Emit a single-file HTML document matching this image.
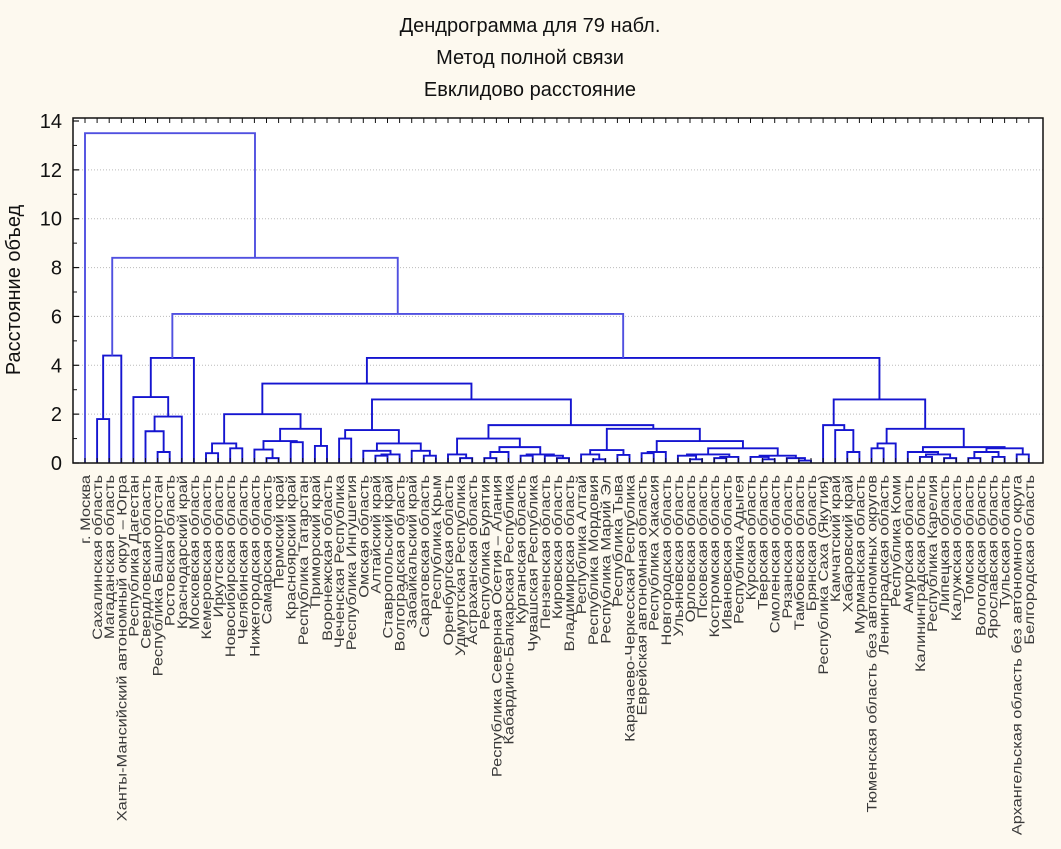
<!DOCTYPE html>
<html><head><meta charset="utf-8">
<style>
html,body{margin:0;padding:0;background:#fdf9ef;}
svg{display:block;font-family:"Liberation Sans",sans-serif;}
</style></head>
<body>
<svg id="chart" width="1061" height="849" viewBox="0 0 1061 849">
<rect x="0" y="0" width="1061" height="849" fill="#fdf9ef"/>
<text x="530" y="32" text-anchor="middle" font-size="20" fill="#111">Дендрограмма для 79 набл.</text>
<text x="530" y="64" text-anchor="middle" font-size="20" fill="#111">Метод полной связи</text>
<text x="530" y="96" text-anchor="middle" font-size="20" fill="#111">Евклидово расстояние</text>
<text transform="translate(20,290) rotate(-90)" text-anchor="middle" font-size="20" fill="#111">Расстояние объед</text>
<rect x="73" y="118" width="970" height="345" fill="#ffffff"/>
<g id="grid"></g>
<g id="links"></g>
<rect x="73" y="118" width="970" height="345" fill="none" stroke="#111" stroke-width="1.5"/>
<g id="axis"></g>
<g id="labels"></g>
</svg>
<script>
const leafLabels = ["г. Москва","Сахалинская область","Магаданская область","Ханты-Мансийский автономный округ – Югра","Республика Дагестан","Свердловская область","Республика Башкортостан","Ростовская область","Краснодарский край","Московская область","Кемеровская область","Иркутская область","Новосибирская область","Челябинская область","Нижегородская область","Самарская область","Пермский край","Красноярский край","Республика Татарстан","Приморский край","Воронежская область","Чеченская Республика","Республика Ингушетия","Омская область","Алтайский край","Ставропольский край","Волгоградская область","Забайкальский край","Саратовская область","Республика Крым","Оренбургская область","Удмуртская Республика","Астраханская область","Республика Бурятия","Республика Северная Осетия – Алания","Кабардино-Балкарская Республика","Курганская область","Чувашская Республика","Пензенская область","Кировская область","Владимирская область","Республика Алтай","Республика Мордовия","Республика Марий Эл","Республика Тыва","Карачаево-Черкесская Республика","Еврейская автономная область","Республика Хакасия","Новгородская область","Ульяновская область","Орловская область","Псковская область","Костромская область","Ивановская область","Республика Адыгея","Курская область","Тверская область","Смоленская область","Рязанская область","Тамбовская область","Брянская область","Республика Саха (Якутия)","Камчатский край","Хабаровский край","Мурманская область","Тюменская область без автономных округов","Ленинградская область","Республика Коми","Амурская область","Калининградская область","Республика Карелия","Липецкая область","Калужская область","Томская область","Вологодская область","Ярославская область","Тульская область","Архангельская область без автономного округа","Белгородская область"];
const yTicks = [0,2,4,6,8,10,12,14];
// merge tree: [left, right, linkage distance]
const clusterT1 = [[1,2,1.8],3,4.4];
const clusterT2 = [[4,[[5,[6,7,0.45],1.3],8,1.9],2.7],9,4.3];
const clusterA = [[[10,11,0.4],[12,13,0.6],0.8],[[[14,[15,16,0.2],0.55],[17,18,0.85],0.9],[19,20,0.7],1.4],2.0];
const clusterE = [[23,[[24,25,0.3],26,0.35],0.5],[27,[28,29,0.3],0.5],0.8];
const clusterC = [[21,22,1.0],clusterE,1.35];
const clusterG = [[30,[31,32,0.2],0.35],[[[33,34,0.2],35,0.45],[[36,37,0.3],[38,[39,40,0.2],0.3],0.35],0.65],1.0];
const clusterI = [[41,[42,43,0.15],0.35],[44,45,0.33],0.53];
const clusterJ = [[[46,47,0.4],48,0.45],[[[49,[50,51,0.15],0.3],[[52,53,0.2],54,0.25],0.35],[[55,[56,57,0.15],0.25],[58,[59,60,0.1],0.2],0.3],0.6],0.9];
const clusterD = [clusterG,[clusterI,clusterJ,1.4],1.55];
const clusterAB = [clusterA,[clusterC,clusterD,2.6],3.25];
const clusterL = [[61,[62,[63,64,0.45],1.35],1.55],[[[65,66,0.6],67,0.8],[[68,[[69,70,0.25],[71,72,0.2],0.35],0.45],[[[73,74,0.2],[75,76,0.25],0.45],[77,78,0.35],0.6],0.65],1.4],2.6];
const tree = [0,[clusterT1,[clusterT2,[clusterAB,clusterL,4.3],6.1],8.4],13.5];

const NS = "http://www.w3.org/2000/svg";
const X0 = 85, DX = 12.1, Y0 = 463, YTOP = 121, YMAX = 14;
const xScale = i => X0 + i*DX;
const yScale = v => Y0 - (v/YMAX)*(Y0-YTOP);
const gGrid = document.getElementById('grid');
const gLinks = document.getElementById('links');
const gAxis = document.getElementById('axis');
const gLabels = document.getElementById('labels');
function mk(tag, attrs, parent){const e=document.createElementNS(NS,tag);for(const k in attrs)e.setAttribute(k,attrs[k]);parent.appendChild(e);return e;}

yTicks.forEach(v=>{
  const y=yScale(v);
  if(v>0&&v<14){
    const gl=mk('line',{x1:73,x2:1043,y1:y,y2:y,stroke:'#bbb','stroke-dasharray':'1,2','stroke-width':1},gGrid);
    
    
  }
  const t=mk('line',{x1:73,x2:79,y1:y,y2:y,stroke:'#111','stroke-width':1.2},gAxis);
  
  
  const lb=mk('text',{x:62,y:y+7,'text-anchor':'end','font-size':20,fill:'#111'},gAxis);
  lb.textContent=v;
  
  
  if(v<14){
    const m=yScale(v+1);
    const mt=mk('line',{x1:73,x2:77,y1:m,y2:m,stroke:'#111','stroke-width':1},gAxis);
    
    
  }
});
leafLabels.forEach((name,i)=>{
  const x=xScale(i);
  const tk=mk('line',{x1:x,x2:x,y1:118,y2:123,stroke:'#111','stroke-width':1},gAxis);
  
  
  const tk2=mk('line',{x1:x,x2:x,y1:458,y2:463,stroke:'#111','stroke-width':1},gAxis);
  
  
  const t=mk('text',{transform:`translate(${x+5},475) rotate(-90) scale(1.17,1)`,'text-anchor':'end','font-size':14,fill:'#3a3a3a'},gLabels);
  t.textContent=name;
  
  
});
function layout(node){
  if(typeof node==='number') return {x:xScale(node),h:0};
  const a=layout(node[0]), b=layout(node[1]), h=node[2];
  const yh=yScale(h);
  const p=mk('path',{d:`M${a.x},${yScale(a.h)}V${yh}H${b.x}V${yScale(b.h)}`,fill:'none',stroke:h>5?'#5050e0':'#1515d0','stroke-width':1.9},gLinks);
  
  
  return {x:(a.x+b.x)/2,h:h};
}
layout(tree);
</script>
</body></html>
